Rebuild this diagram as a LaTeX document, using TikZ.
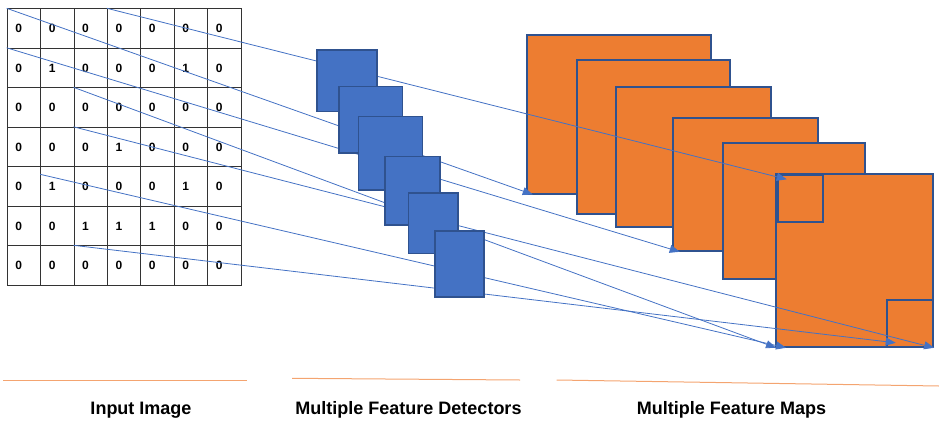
\documentclass[tikz,border=0pt]{standalone}
\usepackage{fontspec}
\setmainfont{Liberation Sans}
\usetikzlibrary{arrows.meta}
\definecolor{detblue}{HTML}{4472C4}
\definecolor{edgeblue}{HTML}{2F528F}
\definecolor{maporange}{HTML}{ED7D31}
\definecolor{rulecol}{HTML}{F4A470}

\begin{document}
\begin{tikzpicture}[x=1pt,y=-1pt,font=\bfseries,
  cell/.style={draw=black!80,line width=0.9pt,anchor=north west,minimum height=39.5pt,
    text width=17pt,inner xsep=8.2pt,inner ysep=0pt,align=left,font=\fontsize{12}{13}\selectfont\bfseries},
  fmap/.style={draw=edgeblue,line width=1.8pt,fill=maporange,anchor=north west,inner sep=0pt},
  fwin/.style={draw=edgeblue,line width=1.8pt,anchor=north west,inner sep=0pt},
  det/.style={draw=edgeblue,line width=1.6pt,fill=detblue,anchor=north west,inner sep=0pt},
  link/.style={draw=detblue,line width=0.8pt,-{Triangle[length=10pt,width=8pt]}},
  caption/.style={font=\fontsize{18}{20}\selectfont\bfseries}]
  \useasboundingbox (0,0) rectangle (939,428);
  % input image
  \foreach \row [count=\r] in {{0,0,0,0,0,0,0},{0,1,0,0,0,1,0},{0,0,0,0,0,0,0},{0,0,0,1,0,0,0},
      {0,1,0,0,0,1,0},{0,0,1,1,1,0,0},{0,0,0,0,0,0,0}}
    \foreach \v [count=\c] in \row
      \node[cell] (cell-\r-\c) at ({6.7+33.4*(\c-1)},{8.3+39.5*(\r-1)}) {\v};
  % feature maps
  \foreach \x/\y/\w/\h [count=\i] in {525.7/34/184.3/158.7, 576.3/59/153/153.7, 614.7/85.7/155.3/140.3,
      671.7/117.3/145/132.7, 721.7/141.7/142.3/136.6, 775/173.3/157.3/172.7}
    \node[fmap,minimum width=\w,minimum height=\h] (map\i) at (\x,\y) {};
  \node[fwin,minimum width=45.6,minimum height=46.4] (win1) at (776.7,174.3) {};
  \node[fwin,minimum width=46,minimum height=46.7] (win2) at (885.7,299.3) {};
  % arrows
  \draw[link] (cell-1-1.north west) to ([xshift=7pt]map1.south west);
  \draw[link] (cell-1-4.north west) to ([shift={(10pt,-5pt)}]win1.north west);
  \draw[link] (cell-2-1.north west) to ([xshift=8pt]map4.south west);
  \draw[link] (cell-3-3.north west) to ([xshift=1pt]map6.south west);
  \draw[link] (cell-4-3.north west) to (map6.south east);
  \draw[link] ([yshift=-8pt]cell-5-2.north west) to ([xshift=11pt]map6.south west);
  \draw[link] (cell-7-3.north west) to ([shift={(10pt,5pt)}]win2.south west);
  % feature detectors
  \foreach \x/\y/\w/\h [count=\i] in {316/49.3/60/61.4, 338.3/85.7/63.4/66.6, 357.7/115.7/64/73.6,
      384/155.7/55/68.6, 407.7/192.3/49.6/60.4, 434/230.3/49.3/65.7}
    \node[det,minimum width=\w,minimum height=\h] (det\i) at (\x,\y) {};
  % captions
  \draw[rulecol,line width=1pt] (3.3,380) -- (246.7,380);
  \draw[rulecol,line width=1pt] (292,378.3) -- (520,380);
  \draw[rulecol,line width=1pt] (556.7,380) -- (939,386);
  \node[caption] (capInput) at (141,410) {Input Image};
  \node[caption] (capDet) at (408.5,410) {Multiple Feature Detectors};
  \node[caption] (capMap) at (731.5,410) {Multiple Feature Maps};
\end{tikzpicture}
\end{document}
